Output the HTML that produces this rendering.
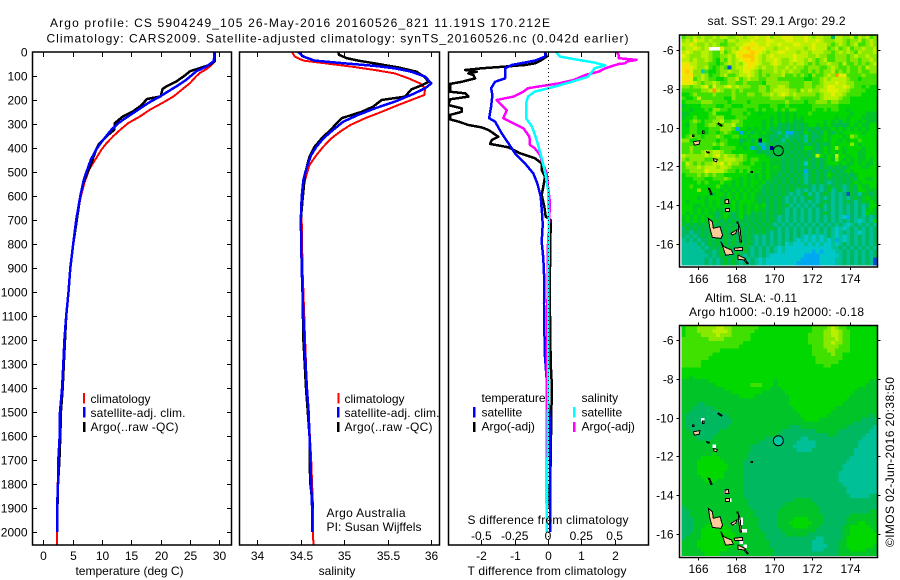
<!DOCTYPE html>
<html>
<head>
<meta charset="utf-8">
<title>Argo profile</title>
<style>
html,body{margin:0;padding:0;background:#fff;width:900px;height:580px;overflow:hidden}
svg{display:block}
text{font-family:"Liberation Sans",sans-serif;font-size:12px;fill:#000}
.frame{fill:none;stroke:#000;stroke-width:1.5}
.tick{stroke:#000;stroke-width:1;shape-rendering:crispEdges}
.line{fill:none;shape-rendering:crispEdges;stroke-linejoin:round}
</style>
</head>
<body>
<svg id="chart" width="900" height="580" viewBox="0 0 900 580" xmlns="http://www.w3.org/2000/svg">
<defs>
<clipPath id="clip-temp"><rect x="32.5" y="52" width="199" height="493"/></clipPath>
<clipPath id="clip-sal"><rect x="239.5" y="52" width="200" height="493"/></clipPath>
<clipPath id="clip-diff"><rect x="448.5" y="52" width="200" height="493"/></clipPath>
<clipPath id="clip-sst"><rect x="679.5" y="35" width="198" height="232"/></clipPath>
<clipPath id="clip-sla"><rect x="679.5" y="325.5" width="198" height="232"/></clipPath>
</defs>
<text x="50" y="27" textLength="500">Argo profile: CS 5904249_105 26-May-2016 20160526_821 11.191S 170.212E</text>
<text x="46.5" y="42.5" textLength="582">Climatology: CARS2009. Satellite-adjusted climatology: synTS_20160526.nc (0.042d earlier)</text>
<text x="707.5" y="25" textLength="138">sat. SST: 29.1  Argo: 29.2</text>
<text x="705" y="302" textLength="92">Altim. SLA: -0.11</text>
<text x="689" y="316" textLength="175">Argo h1000: -0.19 h2000: -0.18</text>
<text transform="translate(894,547) rotate(-90)" textLength="170">©IMOS 02-Jun-2016 20:38:50</text>
<g id="layer-cells"></g>
<g id="layer-lines"></g>
<line x1="548.5" y1="52" x2="548.5" y2="545" stroke="#000" stroke-width="1" stroke-dasharray="1 3"/>
<g id="layer-axes"></g>

<g>
<rect x="83" y="393" width="2" height="10.5" fill="#f00"/>
<text x="90.5" y="403">climatology</text>
<rect x="83" y="407" width="2.5" height="10.5" fill="#00f"/>
<text x="90.5" y="417" textLength="95">satellite-adj. clim.</text>
<rect x="83" y="422" width="2.5" height="10" fill="#000"/>
<text x="90.5" y="431" textLength="88">Argo(..raw -QC)</text>
</g>
<g>
<rect x="337.5" y="393" width="2" height="10.5" fill="#f00"/>
<text x="344.5" y="403">climatology</text>
<rect x="337" y="407" width="2.5" height="10.5" fill="#00f"/>
<text x="344.5" y="417" textLength="95">satellite-adj. clim.</text>
<rect x="337" y="422" width="2.5" height="10" fill="#000"/>
<text x="344.5" y="431" textLength="88">Argo(..raw -QC)</text>
</g>
<text x="326.5" y="517" textLength="79">Argo Australia</text>
<text x="326.5" y="531" textLength="95">PI: Susan Wijffels</text>
<g>
<text x="481.5" y="402" textLength="64">temperature</text>
<text x="581.5" y="402">salinity</text>
<rect x="473" y="407" width="2.5" height="10.5" fill="#00f"/>
<text x="481.5" y="416.5">satellite</text>
<rect x="473" y="422" width="2.5" height="10" fill="#000"/>
<text x="481.5" y="430.5">Argo(-adj)</text>
<rect x="573" y="407" width="2.5" height="10.5" fill="#0ff"/>
<text x="581.5" y="416.5">satellite</text>
<rect x="573" y="422" width="2.5" height="10" fill="#f0f"/>
<text x="581.5" y="430.5">Argo(-adj)</text>
</g>
<text x="467.5" y="524" textLength="161">S difference from climatology</text>
<text x="467.5" y="575" textLength="159">T difference from climatology</text>
<text x="129.5" y="575" text-anchor="middle">temperature (deg C)</text>
<text x="337" y="575" text-anchor="middle">salinity</text>
</svg>
<script>
const depthTicks = [0,100,200,300,400,500,600,700,800,900,1000,1100,1200,1300,1400,1500,1600,1700,1800,1900,2000];
const tempTicks = [0,5,10,15,20,25,30];
const salTicks = [34,34.5,35,35.5,36];
const salTickLabels = ['34','34.5','35','35.5','36'];
const tDiffTicks = [-2,-1,0,1,2];
const sDiffTicks = [-0.5,-0.25,0,0.25,0.5];
const sDiffTickLabels = ['-0.5','-0.25','0','0.25','0.5'];
const lonTicks = [166,168,170,172,174];
const latTicks = [-6,-8,-10,-12,-14,-16];

const climTempDepth = [0,30,46,60,74,87,100,129,157,185,212,240,268,296,324,351,379,407,435,462,490,518,546,601,700,800,900,1000,1100,1200,1300,1400,1500,1600,1700,1800,1900,2000,2054];
const climTemp = [29.15,29.15,29,28.4,27.6,26.7,26.1,25,23.6,22.2,20.3,18.2,16.5,14.5,13.1,11.9,10.8,9.9,9.2,8.5,7.8,7.4,7,6.4,5.6,5.1,4.6,4.3,3.9,3.6,3.4,3.15,2.85,2.8,2.55,2.45,2.35,2.3,2.3];
const satTempDepth = [0,18,39,60,80,115,143,185,212,240,268,296,324,351,379,407,449,490,532,601,700,800,900,1000,1100,1200,1300,1400,1500,1600,1700,1800,1900,2000];
const satTemp = [29.15,29.15,29,27.8,26.1,24.4,22.7,19.9,17.9,16.2,14.5,12.8,11.6,10.7,9.8,9,8.1,7.5,6.9,6.3,5.6,5.1,4.6,4.3,3.9,3.6,3.4,3.2,2.85,2.8,2.55,2.5,2.35,2.35];
const argoTempDepth = [0,39,53,67,80,100,122,143,154,185,196,226,247,268,296,324,351,386,414,462,504,546,601,700,800,900,1000,1100,1200,1300,1400,1500,1600,1700,1800,1900];
const argoTemp = [29.2,29.2,28.4,26.7,25,24,22.7,21,20.3,20,17.7,16.5,15.3,13.6,12.2,12.1,10.8,9.4,8.9,8.2,7.5,6.8,6.3,5.7,5.1,4.6,4.3,3.9,3.7,3.5,3.3,3,2.9,2.75,2.5,2.4];

const climSalDepth = [0,19,36,47,61,75,89,110,131,151,179,200,221,249,276,304,332,360,394,429,471,506,561,644,700,900,1000,1200,1400,1500,1600,1700,1800,1900,2000,2054];
const climSal = [34.4,34.43,34.53,34.78,35.08,35.35,35.58,35.74,35.87,35.93,35.92,35.77,35.62,35.43,35.24,35.07,34.95,34.85,34.76,34.68,34.6,34.57,34.53,34.51,34.51,34.52,34.53,34.55,34.57,34.59,34.605,34.62,34.63,34.64,34.64,34.645];
const satSalDepth = [0,19,36,47,58,68,82,103,131,151,172,207,235,262,290,325,360,394,429,478,533,603,700,900,1000,1200,1400,1500,1600,1700,1800,1900,2000];
const satSal = [34.47,34.53,34.66,35,35.35,35.58,35.77,35.93,36,35.93,35.81,35.58,35.35,35.16,34.99,34.87,34.76,34.68,34.62,34.57,34.53,34.51,34.5,34.51,34.52,34.54,34.57,34.59,34.6,34.61,34.62,34.63,34.635];
const argoSalDepth = [0,12,26,36,50,64,82,103,124,137,156,186,200,228,249,276,325,360,394,436,506,617,700,900,1000,1200,1400,1500,1600,1700,1800,1900];
const argoSal = [34.93,34.94,35.03,35.16,35.39,35.62,35.83,35.92,35.97,35.9,35.77,35.7,35.43,35.33,35.2,34.97,34.84,34.74,34.66,34.6,34.55,34.52,34.5,34.51,34.52,34.53,34.56,34.58,34.6,34.6,34.61,34.64];

const satTDiffDepth = [0,19,36,54,68,110,124,151,179,228,276,290,339,380,422,464,506,547,603,686,720,790,860,950,1050,1150,1270,1400,1546,2000];
const satTDiff = [-0.09,-0.09,-0.39,-1.09,-1.29,-1.29,-1.59,-1.71,-1.67,-1.71,-1.77,-1.59,-1.39,-1.19,-0.99,-0.69,-0.44,-0.32,-0.22,-0.17,-0.16,-0.19,-0.14,-0.11,-0.12,-0.11,-0.09,-0.02,0.06,0.06];
const argoTDiffDepth = [0,19,33,47,54,61,68,75,82,89,96,110,117,124,133,158,165,172,186,197,221,235,249,262,281,290,304,314,325,353,367,383,397,422,443,464,492,519,561,596,644,686,700,900,1100,1300,1400,1500,1600,1700,1800,1900];
const argoTDiff = [-0.09,-0.04,-0.19,-0.39,-0.69,-1.29,-1.99,-2.49,-2.14,-2.39,-2.24,-2.19,-2.39,-2.59,-2.94,-2.94,-2.99,-2.49,-2.39,-2.94,-2.99,-2.59,-2.59,-2.94,-2.94,-2.69,-2.39,-1.99,-1.79,-1.49,-1.69,-1.74,-1.19,-0.84,-0.39,-0.19,-0.19,-0.09,-0.14,-0.19,-0.11,-0.07,0.08,0.06,0.06,0.08,0.12,0.1,0.09,0.08,0.06,0.05];
const argoSDiffDepth = [0,12,26,33,40,47,50,68,82,96,117,131,151,165,186,200,221,242,276,297,318,353,387,401,429,471,506,561,630,686,800,1000,1300,1500,2000];
const argoSDiff = [0.515,0.53,0.53,0.665,0.59,0.58,0.53,0.43,0.38,0.28,0.19,0.08,-0.15,-0.185,-0.26,-0.385,-0.35,-0.31,-0.335,-0.26,-0.185,-0.14,-0.135,-0.1,-0.06,-0.035,-0.01,0,0.015,0.01,0,-0.003,-0.01,-0.01,-0.01];
const satSDiffDepth = [0,19,33,44,56,68,82,103,124,144,165,186,214,276,311,367,436,506,575,686,1000,1500,2000];
const satSDiff = [0.06,0.09,0.23,0.35,0.43,0.35,0.33,0.3,0.18,0.05,-0.1,-0.15,-0.165,-0.165,-0.12,-0.085,-0.05,-0.02,0,0.005,0.003,0,-0.01];

const levelColors = ['#000090','#0050d8','#00a8f0','#00c8c8','#00c098','#00b860','#00c428','#00d800','#40e000','#88e800','#b8f000','#e0f000','#f8e000','#ffc800','#ff9800','#ff6000'];

const sstRows = [
"899a9a99a9aa99aa9aabaab9aabbbaaaba9aa995aa99a8a9a89",
"9a9baa9a9998aa9aaabaaabbaaabbaaabaaba999aa9899a89a9",
"aaba99a9a98899aabbcbaabaabaaabbaaabaaa989a989a889a9",
"9aaba9abb9b99a9bcdbbcbaa9aabaaaa9abaaa89a89a899a99a",
"aba99aa988a89abcbcdcba9aabbaaa9aa9aaa9989a9a98a999a",
"ba999aa98899a9bcdddba9abaaaaabaaa99a998899989a99a99",
"aa9a99a98798a9abccdba9aaba99abaa9a989a88999899899a9",
"bcaa99988789a9a9bccba99aba99a9aa989899a998a8898989a",
"ccba99a8789899aabcba9a99a99a9a998999889a98898898a99",
"cdb999877899a99abba98999a9a9a9988989899a8989889889",
"bcc99a97889a889aaba9898999a88989879889a9abb8888988",
"ccb89a98877899a89a9988999888888877889a9aaaa9887888",
"bcba9899a9889988988887999999888899889aaabaa9988888",
"99899ab8b99ab9a9998899899aa9888899899abbaaba988787",
"8888899a8a98898988889989aaaa998a9a99aabbbaa9888877",
"77898888988889888998899a9aba9a9999989aabaa98888777",
"8778a88888877988888888899998899888889aaaa988777777",
"7888899988887888878888888889888878899989988877777",
"67777888877887778888777887787777778888888777777777",
"7767778799887888877878778787887777877878877677777",
"6677777897777888787767777676767778777777777767776",
"6778777889977788877777767676767677777777677677766",
"7789878899a88998777776767676756677777676757677676",
"7688778998899a887777767675656565677676765656767667",
"77887778889998877676767565656565656566676767676767",
"77887778878987766757676654656555765657657677777677",
"7898878889877887767766655654555646556767776798777",
"9977888887887775675767656546565646566767767677877",
"8888888898987776776764565565656565656567677797677",
"8898888877888877676564566565656577656767976777767",
"889889a9aa988777777656565656565665656767676777667",
"a99999a9ab9a9989877777656565656565657676677677667",
"98999988999aaa9987887776665656565656567697676766767",
"8a989899aab9a99877877676665656565656567776766767667",
"8999a9aaa9aa98888877767676565656565656565656777667",
"889999baaaa9887878777676665656564565656565676777",
"7888989898877777767676766565656545656576565656777",
"777888778889877676767676565656564565656565656577667",
"7777878777877676767767565656565645656545656567677",
"77877777787676767676756565656565654545656545657667",
"7777977777676767676765656565654545454564564565776",
"7777777667767676767665656565454564545654545465466565",
"777767677766767676765656565454545654545454545656766",
"767777676767676777765656565454545454565454565456676",
"77766767676767676767675656564545454564545454545457",
"7776767676656767676766565654545454545454545454546766",
"7676767665676567675656565654545454545654545454547666",
"6767676765676567565656565454545454545454543454545457",
"676767656656565656565656545454545454545454545434547",
"6565656565656565656565654545454545454545454345454546",
"5656565656565656565656565454545454545454343454545454",
"5545565656565656565656545454545454545454345454345454",
"5454565656565656565454545454545434343454343454545454",
"4545455656565656565454545454543434343434443454545454",
"4444545656565656565454545453433343434334345454545456",
"4444454565656565654545454343333333333334454545454545",
"4444445545656565654545454343333333232333445454545454",
"4444444545656565454545433333333322223333345454545451",
"4444445454565654545434333333333222223333445454545411",
"4444445454565654545434333333332222223333445454545411"
];
const sstSpecks = [
[169.19,-10.59,0],[169.81,-10.98,0],[168.19,-10.18,2],[168.09,-9.97,2],[170.82,-10.18,2],[170.6,-10.18,2],
[169.35,-10.79,2],[168.83,-10.99,2],[169.56,-11,2],[173.98,-13.36,1],[171.6,-12.19,2],[171.77,-11.93,3],
[173.81,-14.54,2],[173.2,-15.8,2],[167.62,-7,1],[166.18,-7.17,3],[166.77,-8.01,14],[173.35,-7.38,14],
[172.2,-11.5,10],[173.2,-11.5,10],[166.55,-5.95,-1],[166.75,-5.95,-1],[166.95,-5.95,-1]
];
const slaRows = [
"788899999aa9988888887777777777777788889a98877777777",
"78889999aaaa988888877777777777777788899aa9887777777",
"788889999a99988888777777777777777888899aa9887777777",
"8888888999988888887777777777777778888999a9887777777",
"888888888888888877777777777777777888899a9988777777",
"888888888888888777777777777777777788899998887777777",
"888888888877777777777777777777777788889988887777777",
"888888887777777777777777777777777788888988777777777",
"888888877777777777777777777777777778888888777777777",
"888887777777777777777777777777777778888887777777777",
"888887777777777777777777777777777777788777777777777",
"777777777777777777777777777777777777777777777777777",
"777777777777777777777777777777777777777777777777777",
"776777777777777777777777777777777777777777777777777",
"666666677777777777777777677777777777777777777777766",
"666666666777777777888777677777777777777777777777666",
"666666666667777777777776667777777777777777777766666",
"666666666666677777777666666777777777777777777666666",
"666666666666666777766666666677777777777777776666666",
"666666666666666666666666666677777777777777766666666",
"666655666666666666666666666677777777777777666666666",
"666555556666666666666666666667777777777766666666666",
"665555555566666666666666666666777777777666666666666",
"655555555555666666666666666666677777776666666666656",
"655555555555566666666666666666667777666666666665555",
"655555555555566666666666666666666666666666666555555",
"655555555555666666666666666655566666666666655555554",
"665555555566666666666666665555555556666665555555544",
"666555555666666666666666655555555555556655555555444",
"666655556666666666666655555555544555555555555554444",
"666666666666666666665555555555444445555555555544444",
"666666666666666666555555555554444445555555555544444",
"666666666666666666555555555555444455555555555444444",
"666666667666666665555555555555555555555555555444444",
"666667777766666665555555555555555555555555554444444",
"666677777776666655555555555555555555555555544444444",
"666677777777666655555555555555555555555555444444444",
"666677777777666655555555555555555555555555444444444",
"666677777776666655555555555555555555555554444444444",
"666667777776666655555555555555555555555554444444444",
"666666777666666655555555555555555555555554444444444",
"666666666666666655555555555555555555555555444444444",
"666666666666666655555555555555555555555555544444444",
"666666666666666655555555555555555555555555544444444",
"666666666666666655555555555555555555555555554444455",
"666666666666666665555555555556666655555555555555555",
"666666666666666665555555555666666665555555555555555",
"566666666666666666555555556666666666555555555555555",
"556666666666666666655555566666666666555555555555566",
"556666666666666666655555566666666666655555556666666",
"555666667666666666665555566667777666655555566666666",
"555666677776666666665555566677777766655555566677666",
"555666777777666666665555566667777666555555667777766",
"555667777777766666666555556666666665555555667777776",
"556667777777776666666655555666666555555555667777777",
"566667777777776666666655555555555554455555677777777",
"666677777777776666666665555555555544455556677777777",
"666677777777766666666665555555555544445556677777776",
"666667777777666666666666555555555544455556667777666",
"666666777766666666666666555555555555555556666666666"
];
const slaSpecks = [
[166.84,-11.55,-1],[167.4,-13.78,-1],[167.6,-14.2,-1],[167.84,-15.33,-1],[168.2,-15.14,-1],[168.2,-15.35,-1],
[168.2,-15.8,-1],[168.2,-16.47,-1],[168.37,-16.67,-1],[166.2,-10.18,-1],[166.2,-10.08,-1],[168.5,-15.9,-1]
];
const islands = [
[[166.53,-14.68],[166.74,-14.85],[166.79,-15.19],[167.14,-15.11],[167.28,-15.54],[167.19,-15.71],[166.74,-15.66],[166.61,-15.19]],
[[167.18,-15.88],[167.35,-16.14],[167.75,-16.31],[167.84,-16.52],[167.44,-16.58],[167.32,-16.22]],
[[167.72,-15.45],[168.02,-15.28],[167.98,-15.45],[167.79,-15.54]],
[[168.1,-14.93],[168.2,-15.2],[168.27,-15.9],[168.2,-15.9],[168.12,-15.3]],
[[167.89,-16.22],[168.32,-16.17],[168.32,-16.34],[167.93,-16.34]],
[[168.1,-16.57],[168.46,-16.74],[168.49,-16.83],[168.1,-16.79]],
[[167.4,-13.73],[167.58,-13.7],[167.61,-13.9],[167.4,-13.9]],
[[167.44,-14.16],[167.65,-14.16],[167.65,-14.33],[167.44,-14.33]],
[[166.53,-13.13],[166.6,-13.15],[166.72,-13.44],[166.66,-13.44]],
[[166.79,-11.6],[167,-11.64],[166.96,-11.76],[166.82,-11.72]],
[[166.44,-11.24],[166.58,-11.27],[166.56,-11.32],[166.45,-11.29]],
[[168.77,-12.25],[168.85,-12.25],[168.85,-12.31],[168.77,-12.31]],
[[165.74,-10.73],[166.09,-10.67],[166.04,-10.86],[165.79,-10.9]],
[[166.22,-10.18],[166.3,-10.18],[166.3,-10.3],[166.22,-10.3]],
[[165.7,-10.39],[165.78,-10.39],[165.78,-10.45],[165.7,-10.45]],
[[167.05,-9.76],[167.25,-9.88],[167.22,-9.93],[167.03,-9.82]],
[[168.03,-14.87],[168.08,-14.87],[168.08,-14.92],[168.03,-14.92]],
[[168.46,-16.8],[168.63,-17],[168.58,-17.03],[168.42,-16.85]]
];
const argoPosition = [170.212,-11.191];

const NS = 'http://www.w3.org/2000/svg';
const cellLayer = document.getElementById('layer-cells');
const lineLayer = document.getElementById('layer-lines');
const axisLayer = document.getElementById('layer-axes');

const depthY = d => 52 + d * 0.24;
const tempX = v => 43.3 + v * 5.87;
const salX = v => 257.3 + (v - 34) * 87;
const tDiffX = v => 548 + v * 33.3;
const sDiffX = v => 548 + v * 133.2;
const mapX = lon => 698.3 + (lon - 166) * 19;
const sstY = lat => 50 + (-6 - lat) * 19.4;
const slaY = lat => 340 + (-6 - lat) * 19.4;

function svgEl(tag) { return document.createElementNS(NS, tag); }

function drawLine(name, depths, values, xFn, color, width, clip) {
  const el = svgEl('polyline');
  
  
  el.setAttribute('class', 'line');
  el.setAttribute('stroke', color);
  el.setAttribute('stroke-width', width);
  el.setAttribute('clip-path', 'url(#' + clip + ')');
  el.setAttribute('points', values.map((v, i) => xFn(v).toFixed(1) + ',' + depthY(depths[i]).toFixed(1)).join(' '));
  lineLayer.appendChild(el);
}
function drawTick(x1, y1, x2, y2) {
  const el = svgEl('line');
  
  
  el.setAttribute('class', 'tick');
  el.setAttribute('x1', x1);
  el.setAttribute('y1', y1);
  el.setAttribute('x2', x2);
  el.setAttribute('y2', y2);
  axisLayer.appendChild(el);
}
function drawLabel(str, x, y, anchor) {
  const el = svgEl('text');
  
  
  el.setAttribute('x', x);
  el.setAttribute('y', y);
  el.setAttribute('text-anchor', anchor);
  el.textContent = str;
  axisLayer.appendChild(el);
}
function drawFrame(name, x, y, w, h) {
  const el = svgEl('rect');
  
  
  el.setAttribute('class', 'frame');
  el.setAttribute('x', x);
  el.setAttribute('y', y);
  el.setAttribute('width', w);
  el.setAttribute('height', h);
  axisLayer.appendChild(el);
}
function drawGrid(name, rows, specks, left, top, right, bottom, yFn, clip) {
  const nCols = 51, nRows = rows.length;
  const cw = (right - left) / nCols, ch = (bottom - top) / nRows;
  const grid = rows.map(r => {
    const out = [];
    for (let c = 0; c < nCols; c++) out.push(parseInt(r[c] || r[r.length - 1], 16));
    return out;
  });
  specks.forEach(s => {
    const c = Math.floor((mapX(s[0]) - left) / cw), r = Math.floor((yFn(s[1]) - top) / ch);
    if (grid[r] && c >= 0 && c < nCols) grid[r][c] = s[2];
  });
  grid.forEach((row, r) => row.forEach((lvl, c) => {
    if (lvl < 0) return;
    const el = svgEl('rect');
    
    
    el.setAttribute('x', (left + c * cw).toFixed(2));
    el.setAttribute('y', (top + r * ch).toFixed(2));
    el.setAttribute('width', (cw + 0.3).toFixed(2));
    el.setAttribute('height', (ch + 0.3).toFixed(2));
    el.setAttribute('fill', levelColors[lvl]);
    el.setAttribute('shape-rendering', 'crispEdges');
    el.setAttribute('clip-path', 'url(#' + clip + ')');
    cellLayer.appendChild(el);
  }));
}
function drawIslands(yFn, clip) {
  islands.forEach(pts => {
    const el = svgEl('polygon');
    
    
    el.setAttribute('points', pts.map(p => mapX(p[0]).toFixed(1) + ',' + yFn(p[1]).toFixed(1)).join(' '));
    el.setAttribute('fill', '#ffcc99');
    el.setAttribute('stroke', '#000');
    el.setAttribute('stroke-width', '1');
    el.setAttribute('shape-rendering', 'crispEdges');
    el.setAttribute('clip-path', 'url(#' + clip + ')');
    cellLayer.appendChild(el);
  });
}
function drawMarker(yFn, fill) {
  const el = svgEl('circle');
  
  
  el.setAttribute('cx', mapX(argoPosition[0]));
  el.setAttribute('cy', yFn(argoPosition[1]));
  el.setAttribute('r', 5);
  el.setAttribute('fill', fill);
  el.setAttribute('stroke', '#000');
  el.setAttribute('stroke-width', '1');
  cellLayer.appendChild(el);
}

drawGrid('sst-cell', sstRows, sstSpecks, 681.7, 35, 877, 265, sstY, 'clip-sst');
drawIslands(sstY, 'clip-sst');
drawMarker(sstY, '#00c040');
drawGrid('sla-cell', slaRows, slaSpecks, 681.7, 325.5, 877, 555.5, slaY, 'clip-sla');
drawIslands(slaY, 'clip-sla');
drawMarker(slaY, '#00c8a0');

drawLine('temperature-climatology-line', climTempDepth, climTemp, tempX, '#f00', 2, 'clip-temp');
drawLine('temperature-argo-line', argoTempDepth, argoTemp, tempX, '#000', 2.5, 'clip-temp');
drawLine('temperature-satellite-line', satTempDepth, satTemp, tempX, '#00f', 2.5, 'clip-temp');
drawLine('salinity-climatology-line', climSalDepth, climSal, salX, '#f00', 2, 'clip-sal');
drawLine('salinity-argo-line', argoSalDepth, argoSal, salX, '#000', 2.5, 'clip-sal');
drawLine('salinity-satellite-line', satSalDepth, satSal, salX, '#00f', 2.5, 'clip-sal');
drawLine('t-diff-argo-line', argoTDiffDepth, argoTDiff, tDiffX, '#000', 2.5, 'clip-diff');
drawLine('t-diff-satellite-line', satTDiffDepth, satTDiff, tDiffX, '#00f', 2.5, 'clip-diff');
drawLine('s-diff-argo-line', argoSDiffDepth, argoSDiff, sDiffX, '#f0f', 2.5, 'clip-diff');
drawLine('s-diff-satellite-line', satSDiffDepth, satSDiff, sDiffX, '#0ff', 2.5, 'clip-diff');

drawFrame('temperature-panel-frame', 32.5, 52, 199, 493);
drawFrame('salinity-panel-frame', 239.5, 52, 200, 493);
drawFrame('difference-panel-frame', 448.5, 52, 200, 493);
drawFrame('sst-map-frame', 679.5, 35, 198, 232);
drawFrame('sla-map-frame', 679.5, 325.5, 198, 232);

depthTicks.forEach(d => {
  const y = Math.round(depthY(d)) + 0.5;
  if (d > 0) { drawTick(32.5, y, 37, y); drawTick(227, y, 231.5, y); }
  drawLabel(String(d), 27.5, y + 4, 'end');
});
tempTicks.forEach(v => {
  const x = Math.round(tempX(v)) + 0.5;
  drawTick(x, 52, x, 57);
  drawTick(x, 540, x, 545);
  drawLabel(String(v), x, 560, 'middle');
});
salTicks.forEach((v, i) => {
  const x = Math.round(salX(v)) + 0.5;
  drawTick(x, 52, x, 57);
  drawTick(x, 540, x, 545);
  drawLabel(salTickLabels[i], x, 560, 'middle');
});
tDiffTicks.forEach(v => {
  const x = Math.round(tDiffX(v)) + 0.5;
  drawTick(x, 52, x, 57);
  drawTick(x, 540, x, 545);
  drawLabel(String(v), x, 560, 'middle');
});
sDiffTicks.forEach((v, i) => {
  drawLabel(sDiffTickLabels[i], sDiffX(v), 540, 'middle');
});
lonTicks.forEach(v => {
  const x = Math.round(mapX(v)) + 0.5;
  drawTick(x, 32, x, 35);
  drawTick(x, 267, x, 270);
  drawLabel(String(v), x, 283, 'middle');
  drawTick(x, 322.5, x, 325.5);
  drawTick(x, 557.5, x, 560.5);
  drawLabel(String(v), x, 573, 'middle');
});
latTicks.forEach(v => {
  const y1 = Math.round(sstY(v)) + 0.5;
  drawTick(676.5, y1, 679.5, y1);
  drawTick(877.5, y1, 880.5, y1);
  drawLabel(String(v), 673.5, y1 + 4, 'end');
  const y2 = Math.round(slaY(v)) + 0.5;
  drawTick(676.5, y2, 679.5, y2);
  drawTick(877.5, y2, 880.5, y2);
  drawLabel(String(v), 673.5, y2 + 4, 'end');
});
</script>
</body>
</html>
